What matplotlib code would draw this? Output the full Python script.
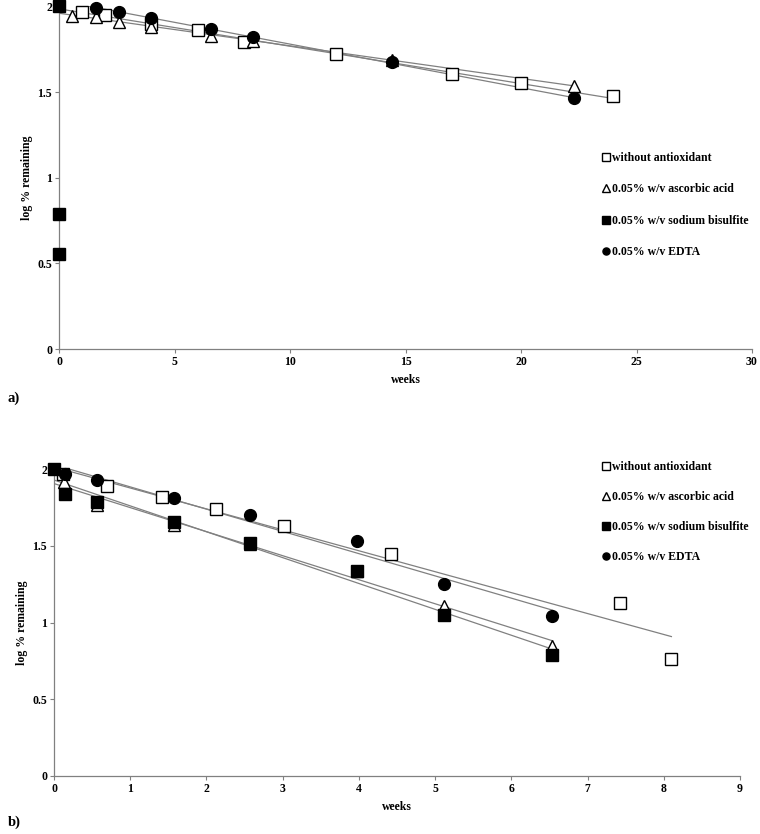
import numpy as np
import matplotlib
matplotlib.use("Agg")
import matplotlib.pyplot as plt
from matplotlib.ticker import FuncFormatter

plt.rcParams['font.family'] = ['Liberation Serif', 'DejaVu Serif']
plt.rcParams['font.weight'] = 'bold'

labels = ["without antioxidant", "0.05% w/v ascorbic acid",
          "0.05% w/v sodium bisulfite", "0.05% w/v EDTA"]

# ---- panel a data (weeks, log % remaining) ----
a_none_x = [1.0, 2.0, 4.0, 6.0, 8.0, 12.0, 17.0, 20.0, 24.0]
a_none_y = [1.97, 1.95, 1.90, 1.86, 1.79, 1.72, 1.605, 1.55, 1.475]
a_asc_x = [0.57, 1.6, 2.6, 4.0, 6.6, 8.4, 14.4, 22.3]
a_asc_y = [1.945, 1.94, 1.91, 1.88, 1.83, 1.80, 1.69, 1.535]
a_bis_x = [0.0, 0.0, 0.0]
a_bis_y = [2.0, 0.79, 0.555]
a_edta_x = [1.6, 2.6, 4.0, 6.6, 8.4, 14.4, 22.3]
a_edta_y = [1.99, 1.965, 1.935, 1.87, 1.82, 1.673, 1.463]

# ---- panel b data ----
b_none_x = [0.12, 0.69, 1.42, 2.12, 3.02, 4.42, 7.42, 8.1]
b_none_y = [1.97, 1.89, 1.82, 1.74, 1.63, 1.45, 1.13, 0.76]
b_asc_x = [0.13, 0.57, 1.57, 2.57, 3.97, 5.12, 6.54]
b_asc_y = [1.92, 1.77, 1.64, 1.51, 1.34, 1.11, 0.85]
b_bis_x = [0.0, 0.15, 0.57, 1.57, 2.57, 3.97, 5.12, 6.54]
b_bis_y = [2.0, 1.84, 1.79, 1.655, 1.52, 1.34, 1.05, 0.79]
b_edta_x = [0.15, 0.57, 1.57, 2.57, 3.97, 5.12, 6.54]
b_edta_y = [1.97, 1.93, 1.81, 1.70, 1.53, 1.255, 1.045]

a_xticks = [0, 5, 10, 15, 20, 25, 30]
b_xticks = [0, 1, 2, 3, 4, 5, 6, 7, 8, 9]
yticks = [0, 0.5, 1, 1.5, 2]

styles = [dict(marker='s', mfc='white', mec='black', ms=8.5),
          dict(marker='^', mfc='white', mec='black', ms=8.5),
          dict(marker='s', mfc='black', mec='black', ms=8.5),
          dict(marker='o', mfc='black', mec='black', ms=8.5)]

fig = plt.figure(figsize=(7.6, 8.34), dpi=100)
FS = 8.5
GRAY = '#808080'


def setup(ax, xlim, xticks):
    ax.set_xlim(*xlim)
    ax.set_ylim(0, 2)
    ax.set_xticks(xticks)
    ax.set_yticks(yticks)
    ax.yaxis.set_major_formatter(FuncFormatter(lambda v, p: '%g' % v))
    for s in ['top', 'right']:
        ax.spines[s].set_visible(False)
    for s in ['left', 'bottom']:
        ax.spines[s].set_color(GRAY)
        ax.spines[s].set_linewidth(0.9)
    ax.tick_params(direction='out', length=3, width=0.8, color=GRAY,
                   labelsize=FS, pad=2)
    for t in ax.get_xticklabels() + ax.get_yticklabels():
        t.set_fontweight('bold')
    ax.set_xlabel('weeks', fontsize=FS, fontweight='bold', labelpad=4)
    ax.set_ylabel('log % remaining', fontsize=FS, fontweight='bold', labelpad=3)


def draw(ax, series, fit_flags):
    handles = []
    for (xs, ys), st, lab, fit in zip(series, styles, labels, fit_flags):
        xs = np.asarray(xs); ys = np.asarray(ys)
        if fit:
            k, b = np.polyfit(xs, ys, 1)
            xx = np.array([0, xs.max()])
            ax.plot(xx, k * xx + b, color=GRAY, lw=0.9, zorder=2)
        h, = ax.plot(xs, ys, ls='none', mew=1.0, clip_on=False,
                     zorder=3, label=lab, **st)
        handles.append(h)
    return handles


def legend(ax, handles, x, y, spacing):
    lg = ax.legend(handles=handles, loc='upper left',
                   bbox_to_anchor=(x, y), bbox_transform=fig.transFigure,
                   frameon=False, handlelength=0.6, handletextpad=0.15,
                   labelspacing=spacing, markerscale=0.6, borderpad=0,
                   prop=dict(size=FS, weight='bold'))
    return lg


# panel a
axa = fig.add_axes([59 / 760, 1 - 349 / 834, (752 - 59) / 760, (349 - 6.4) / 834])
setup(axa, (0, 30), a_xticks)
ha = draw(axa, [(a_none_x, a_none_y), (a_asc_x, a_asc_y),
                (a_bis_x, a_bis_y), (a_edta_x, a_edta_y)],
          [True, True, False, True])
legend(axa, ha, 597 / 760, 1 - 146 / 834, 1.65)

# panel b
axb = fig.add_axes([54 / 760, 1 - 776 / 834, (740 - 54) / 760, (776 - 469.3) / 834])
setup(axb, (0, 9), b_xticks)
hb = draw(axb, [(b_none_x, b_none_y), (b_asc_x, b_asc_y),
                (b_bis_x, b_bis_y), (b_edta_x, b_edta_y)],
          [True, True, True, True])
legend(axb, hb, 597 / 760, 1 - 455 / 834, 1.52)

fig.text(8 / 760, 1 - 398 / 834, 'a)', fontsize=10.5, fontweight='bold', va='center')
fig.text(8 / 760, 1 - 822 / 834, 'b)', fontsize=10.5, fontweight='bold', va='center')

fig.savefig('out.png', dpi=100)
